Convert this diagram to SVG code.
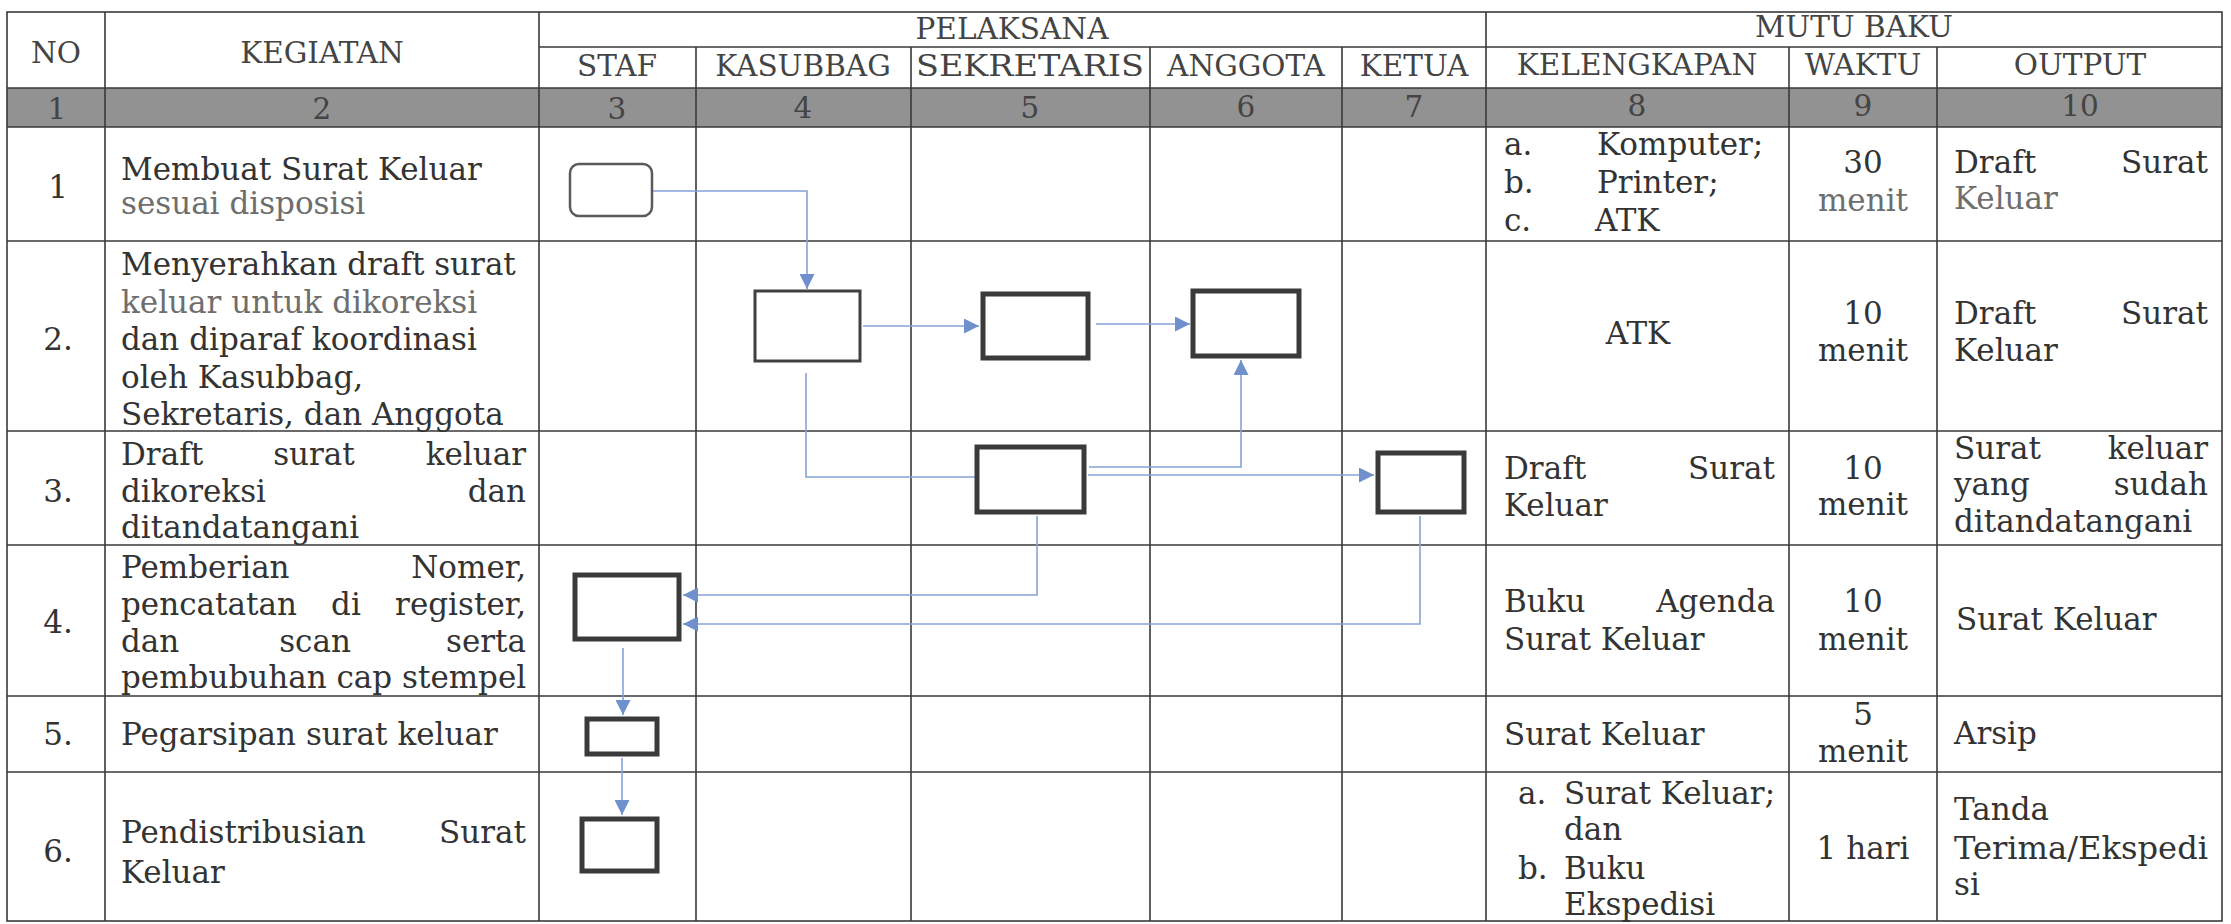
<svg xmlns="http://www.w3.org/2000/svg" width="2231" height="924" viewBox="0 0 2231 924">
<defs>
<style>
.grid{stroke:#3a3a3a;stroke-width:1.6;fill:none}
.hd{font-family:"DejaVu Serif","Liberation Serif",serif;font-size:29.5px;fill:#444;text-anchor:middle}
.t{font-family:"DejaVu Serif","Liberation Serif",serif;font-size:31px;fill:#333}
.f{fill:#6e6e6e}
.c{text-anchor:middle}
.e{text-anchor:end}
.box{fill:#fff;stroke:#3a3a3a;stroke-width:5}
.thin{stroke:#404040;stroke-width:3}
.round{fill:#fff;stroke:#5a5a5a;stroke-width:2.5}
.conn{fill:none;stroke:#86a3d6;stroke-width:1.6}
</style>
<marker id="arr" viewBox="0 0 15 15" refX="15" refY="7.5" markerWidth="15" markerHeight="15" markerUnits="userSpaceOnUse" orient="auto">
<path d="M0,0 L15,7.5 L0,15 z" fill="#6f90cc"/>
</marker>
</defs>
<rect width="2231" height="924" fill="#fff"/>

<g id="table">
<rect x="7" y="88" width="2215" height="39" fill="#929292"/>
<rect class="grid" x="7" y="12" width="2215" height="909"/>
<path class="grid" d="M539,47 H2222 M7,88 H2222 M7,127 H2222 M7,241 H2222 M7,431 H2222 M7,545 H2222 M7,696 H2222 M7,772 H2222"/>
<path class="grid" d="M105,12 V921 M539,12 V921 M696,47 V921 M911,47 V921 M1150,47 V921 M1342,47 V921 M1486,12 V921 M1789,47 V921 M1937,47 V921"/>
</g>

<g id="header">
<text class="hd" x="56" y="63">NO</text>
<text class="hd" x="322" y="63">KEGIATAN</text>
<text class="hd" x="1012" y="39">PELAKSANA</text>
<text class="hd" x="1854" y="37">MUTU BAKU</text>
<text class="hd" x="617" y="76">STAF</text>
<text class="hd" x="803" y="76">KASUBBAG</text>
<text class="hd" x="1030" y="76" textLength="228" lengthAdjust="spacingAndGlyphs">SEKRETARIS</text>
<text class="hd" x="1246" y="76">ANGGOTA</text>
<text class="hd" x="1414" y="76">KETUA</text>
<text class="hd" x="1637" y="75">KELENGKAPAN</text>
<text class="hd" x="1863" y="75">WAKTU</text>
<text class="hd" x="2080" y="75">OUTPUT</text>
<text class="hd" x="57" y="119">1</text>
<text class="hd" x="322" y="119">2</text>
<text class="hd" x="617" y="119">3</text>
<text class="hd" x="803" y="118">4</text>
<text class="hd" x="1030" y="118">5</text>
<text class="hd" x="1246" y="117">6</text>
<text class="hd" x="1414" y="117">7</text>
<text class="hd" x="1637" y="116">8</text>
<text class="hd" x="1863" y="116">9</text>
<text class="hd" x="2080" y="116">10</text>
</g>

<g id="row1">
<text class="t c" x="58" y="198">1</text>
<text class="t" x="121" y="180">Membuat Surat Keluar</text>
<text class="t f" x="121" y="214">sesuai disposisi</text>
<text class="t" x="1504" y="155">a.</text><text class="t" x="1597" y="155">Komputer;</text>
<text class="t" x="1504" y="193">b.</text><text class="t" x="1597" y="193">Printer;</text>
<text class="t" x="1504" y="231">c.</text><text class="t" x="1595" y="231">ATK</text>
<text class="t c" x="1863" y="173">30</text>
<text class="t c f" x="1863" y="211">menit</text>
<text class="t" x="1954" y="173">Draft</text><text class="t e" x="2208" y="173">Surat</text>
<text class="t f" x="1954" y="209">Keluar</text>
</g>

<g id="row2">
<text class="t c" x="58" y="350">2.</text>
<text class="t" x="121" y="275">Menyerahkan draft surat</text>
<text class="t f" x="121" y="313">keluar untuk dikoreksi</text>
<text class="t" x="121" y="350">dan diparaf koordinasi</text>
<text class="t" x="121" y="388">oleh Kasubbag,</text>
<text class="t" x="121" y="425">Sekretaris, dan Anggota</text>
<text class="t c" x="1638" y="344">ATK</text>
<text class="t c" x="1863" y="324">10</text>
<text class="t c" x="1863" y="361">menit</text>
<text class="t" x="1954" y="324">Draft</text><text class="t e" x="2208" y="324">Surat</text>
<text class="t" x="1954" y="361">Keluar</text>
</g>

<g id="row3">
<text class="t c" x="58" y="502">3.</text>
<text class="t" x="121" y="465">Draft</text><text class="t c" x="314" y="465">surat</text><text class="t e" x="526" y="465">keluar</text>
<text class="t" x="121" y="502">dikoreksi</text><text class="t e" x="526" y="502">dan</text>
<text class="t" x="121" y="538">ditandatangani</text>
<text class="t" x="1504" y="479">Draft</text><text class="t e" x="1775" y="479">Surat</text>
<text class="t" x="1504" y="516">Keluar</text>
<text class="t c" x="1863" y="479">10</text>
<text class="t c" x="1863" y="515">menit</text>
<text class="t" x="1954" y="459">Surat</text><text class="t e" x="2208" y="459">keluar</text>
<text class="t" x="1954" y="495">yang</text><text class="t e" x="2208" y="495">sudah</text>
<text class="t" x="1954" y="532">ditandatangani</text>
</g>

<g id="row4">
<text class="t c" x="58" y="633">4.</text>
<text class="t" x="121" y="578">Pemberian</text><text class="t e" x="526" y="578">Nomer,</text>
<text class="t" x="121" y="615">pencatatan</text><text class="t c" x="346" y="615">di</text><text class="t e" x="526" y="615">register,</text>
<text class="t" x="121" y="652">dan</text><text class="t c" x="315" y="652">scan</text><text class="t e" x="526" y="652">serta</text>
<text class="t" x="121" y="688">pembubuhan cap stempel</text>
<text class="t" x="1504" y="612">Buku</text><text class="t e" x="1775" y="612">Agenda</text>
<text class="t" x="1504" y="650">Surat Keluar</text>
<text class="t c" x="1863" y="612">10</text>
<text class="t c" x="1863" y="650">menit</text>
<text class="t" x="1956" y="630">Surat Keluar</text>
</g>

<g id="row5">
<text class="t c" x="58" y="745">5.</text>
<text class="t" x="121" y="745">Pegarsipan surat keluar</text>
<text class="t" x="1504" y="745">Surat Keluar</text>
<text class="t c" x="1863" y="725">5</text>
<text class="t c" x="1863" y="762">menit</text>
<text class="t" x="1954" y="744">Arsip</text>
</g>

<g id="row6">
<text class="t c" x="58" y="862">6.</text>
<text class="t" x="121" y="843">Pendistribusian</text><text class="t e" x="526" y="843">Surat</text>
<text class="t" x="121" y="883">Keluar</text>
<text class="t" x="1518" y="804">a.</text><text class="t" x="1564" y="804">Surat Keluar;</text>
<text class="t" x="1564" y="840">dan</text>
<text class="t" x="1518" y="879">b.</text><text class="t" x="1564" y="879">Buku</text>
<text class="t" x="1564" y="915">Ekspedisi</text>
<text class="t c" x="1863" y="859">1 hari</text>
<text class="t" x="1954" y="820">Tanda</text>
<text class="t" x="1954" y="859" textLength="254" lengthAdjust="spacingAndGlyphs">Terima/Ekspedi</text>
<text class="t" x="1954" y="895">si</text>
</g>

<g id="connectors">
<path class="conn" d="M653,191 H807 V289" marker-end="url(#arr)"/>
<path class="conn" d="M863,326 H979" marker-end="url(#arr)"/>
<path class="conn" d="M1096,324 H1190" marker-end="url(#arr)"/>
<path class="conn" d="M806,373 V477 H975"/>
<path class="conn" d="M1089,467 H1241 V360" marker-end="url(#arr)"/>
<path class="conn" d="M1088,475 H1374" marker-end="url(#arr)"/>
<path class="conn" d="M1037,516 V595 H683" marker-end="url(#arr)"/>
<path class="conn" d="M1420,516 V624 H683" marker-end="url(#arr)"/>
<path class="conn" d="M623,648 V715" marker-end="url(#arr)"/>
<path class="conn" d="M622,758 V815" marker-end="url(#arr)"/>
</g>

<g id="n1"><rect class="round" x="570" y="164" width="82" height="52" rx="9"/></g>
<g id="n2"><rect class="box thin" x="755" y="291" width="105" height="70"/></g>
<g id="n3"><rect class="box" x="983" y="294" width="105" height="64"/></g>
<g id="n4"><rect class="box" x="1193" y="291" width="106" height="65"/></g>
<g id="n5"><rect class="box" x="977" y="447" width="107" height="65"/></g>
<g id="n6"><rect class="box" x="1378" y="453" width="86" height="59"/></g>
<g id="n7"><rect class="box" x="575" y="575" width="104" height="64"/></g>
<g id="n8"><rect class="box" x="587" y="719" width="70" height="35"/></g>
<g id="n9"><rect class="box" x="582" y="819" width="75" height="52"/></g>
</svg>
